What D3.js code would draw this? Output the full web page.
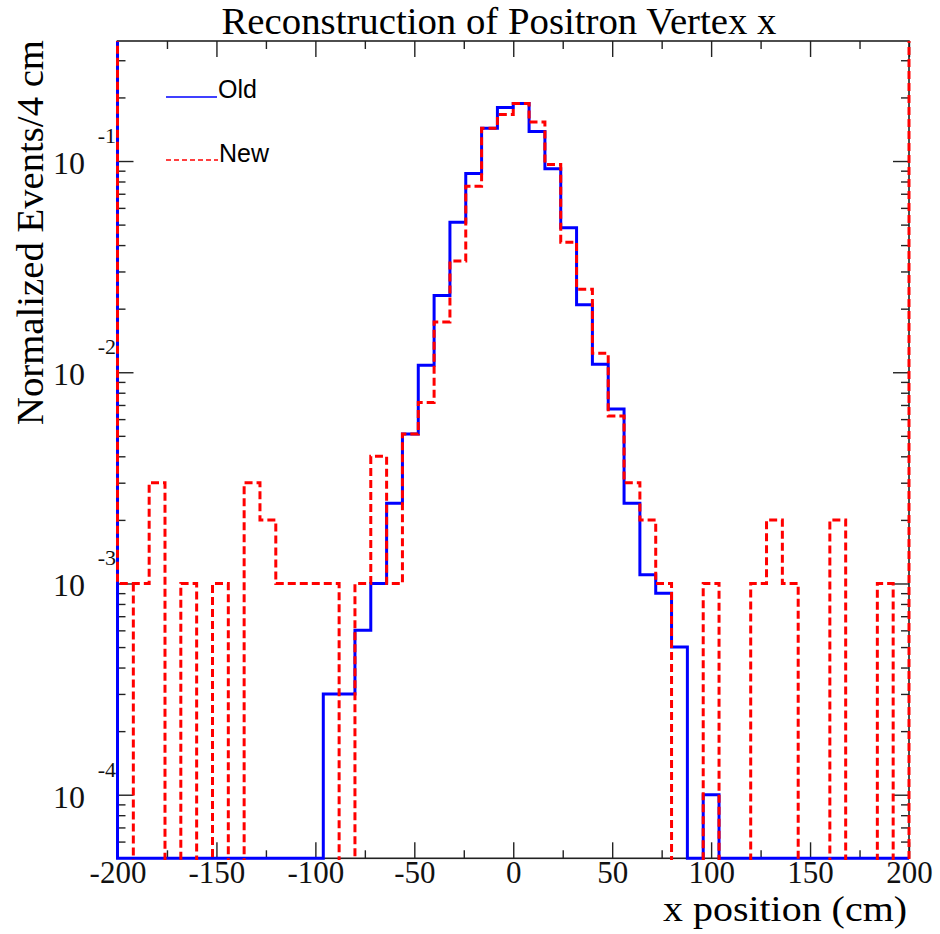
<!DOCTYPE html>
<html>
<head>
<meta charset="utf-8">
<script src="https://cdn.jsdelivr.net/npm/d3@7"></script>
<style>
body{margin:0;background:#fff}
svg{display:block}
</style>
</head>
<body>
<svg width="940" height="934"></svg>
<script>
// histogram bins: 8 cm wide, starting at -200
const binStart = -200
const binWidth = 8

// "Old" reconstruction, one value per bin
const oldValues = [
	0, 0, 0, 0, 0, 0, 0, 0, 0, 0,
	0, 0, 0, 3.0e-4, 3.0e-4, 6.0e-4, 1.0e-3, 2.4e-3, 5.1e-3, 1.08e-2,
	2.31e-2, 5.13e-2, 8.73e-2, 0.143, 0.179, 0.187, 0.138, 0.0918, 0.0483, 0.0209,
	0.0109, 0.0067, 0.0024, 0.0011, 0.0009, 0.0005, 0, 0.0001, 0, 0,
	0, 0, 0, 0, 0, 0, 0, 0, 0, 0
]

// "New" reconstruction
const newValues = [
	1e-3, 1e-3, 3e-3, 0, 1e-3, 0, 1e-3, 0, 3e-3, 2e-3,
	1e-3, 1e-3, 1e-3, 1e-3, 0, 1e-3, 4e-3, 1e-3, 5.1e-3, 7.2e-3,
	1.73e-2, 3.36e-2, 7.6e-2, 0.143, 0.166, 0.187, 0.153, 0.0963, 0.0413, 0.0247,
	0.0123, 0.0062, 3e-3, 2e-3, 1e-3, 0, 0, 1e-3, 0, 0,
	1e-3, 2e-3, 1e-3, 0, 0, 2e-3, 0, 0, 1e-3, 0
]

// level the outline comes from at the left edge / goes to at the right edge
const oldEdges = [1, 0]
const newEdges = [1, 1]
// x where the dashed outline drops to the floor
const newDrops = [-192]

const xMajorTicks = [-200, -150, -100, -50, 0, 50, 100, 150, 200]
const xMinorTicks = [-175, -125, -75, -25, 25, 75, 125, 175]
const yDecades = [1e-4, 1e-3, 1e-2, 1e-1]
const yExponents = ["-4", "-3", "-2", "-1"]

const svg = d3.select("svg")

const xScale = d3.scaleLinear()
	.domain([-200, 200])
	.range([117.5, 909])

const yScale = d3.scaleLog()
	.domain([5e-5, 0.37])
	.range([858.3, 41])

const plotLeft = xScale.range()[0], plotRight = xScale.range()[1]
const plotBottom = yScale.range()[0], plotTop = yScale.range()[1]

// clip for the histogram lines
svg.append("defs")
	.append("clipPath")
	.attr("id", "plotclip")
	.append("rect")
	.attr("x", plotLeft - 3)
	.attr("y", plotTop)
	.attr("width", plotRight - plotLeft + 6)
	.attr("height", plotBottom - plotTop + 1.6)

// minor y ticks, 2..9 in every decade
const yMinorTicks = []
d3.range(-5, 0).forEach(p => {
	d3.range(2, 10).forEach(k => {
		const v = k * Math.pow(10, p)
		if (v > yScale.domain()[0] && v < yScale.domain()[1]) yMinorTicks.push(v)
	})
})

const axes = svg.append("g").attr("class", "axes")

// bottom ticks with labels
axes.append("g")
	.attr("transform", `translate(0,${plotBottom})`)
	.call(d3.axisBottom(xScale).tickValues(xMajorTicks).tickSize(-16).tickPadding(3)
		.tickFormat(d => String(d)))
axes.append("g")
	.attr("transform", `translate(0,${plotBottom})`)
	.call(d3.axisBottom(xScale).tickValues(xMinorTicks).tickSize(-8).tickFormat(""))
// top ticks
axes.append("g")
	.attr("transform", `translate(0,${plotTop})`)
	.call(d3.axisTop(xScale).tickValues(xMajorTicks).tickSize(-16).tickFormat(""))
axes.append("g")
	.attr("transform", `translate(0,${plotTop})`)
	.call(d3.axisTop(xScale).tickValues(xMinorTicks).tickSize(-8).tickFormat(""))
// left and right ticks
axes.append("g")
	.attr("transform", `translate(${plotLeft},0)`)
	.call(d3.axisLeft(yScale).tickValues(yDecades).tickSize(-16).tickFormat(""))
axes.append("g")
	.attr("transform", `translate(${plotLeft},0)`)
	.call(d3.axisLeft(yScale).tickValues(yMinorTicks).tickSize(-8).tickFormat(""))
axes.append("g")
	.attr("transform", `translate(${plotRight},0)`)
	.call(d3.axisRight(yScale).tickValues(yDecades).tickSize(-16).tickFormat(""))
axes.append("g")
	.attr("transform", `translate(${plotRight},0)`)
	.call(d3.axisRight(yScale).tickValues(yMinorTicks).tickSize(-8).tickFormat(""))

axes.selectAll(".domain").remove()
axes.selectAll(".tick line").attr("stroke", "#222").attr("stroke-width", 1.4)
axes.selectAll(".tick text")
	.attr("font-family", "Liberation Serif, serif")
	.attr("font-size", 31)
	.attr("fill", "#111")

// y labels as 10 with exponent
const yLabels = axes.append("g")
	.selectAll("g")
	.data(yDecades)
	.enter()
	.append("g")
	.attr("font-family", "Liberation Serif, serif")
	.attr("fill", "#111")
yLabels.append("text")
	.attr("x", 69)
	.attr("y", d => yScale(d) + 13)
	.attr("text-anchor", "middle")
	.attr("font-size", 32)
	.text("10")
yLabels.append("text")
	.attr("x", 116)
	.attr("y", d => yScale(d) - 18)
	.attr("text-anchor", "end")
	.attr("font-size", 22)
	.text((d, i) => yExponents[i])

// frame
svg.append("rect")
	.attr("x", plotLeft)
	.attr("y", plotTop)
	.attr("width", plotRight - plotLeft)
	.attr("height", plotBottom - plotTop)
	.attr("fill", "none")
	.attr("stroke", "#222")
	.attr("stroke-width", 1.6)

// step outline of a histogram
const outline = function (values, edges, floorY) {
	const yOf = v => v > 0 ? yScale(v) : floorY
	const pts = [[xScale(binStart), yOf(edges[0])]]
	values.forEach((v, i) => {
		pts.push([xScale(binStart + i * binWidth), yOf(v)])
		pts.push([xScale(binStart + (i + 1) * binWidth), yOf(v)])
	})
	pts.push([xScale(binStart + values.length * binWidth), yOf(edges[1])])
	return d3.line()(pts)
}

const lines = svg.append("g").attr("clip-path", "url(#plotclip)")

lines.append("path")
	.attr("d", outline(oldValues, oldEdges, plotBottom))
	.attr("fill", "none")
	.attr("stroke", "#0000ff")
	.attr("stroke-width", 3)

const newFloor = plotBottom + 8
lines.append("path")
	.attr("d", outline(newValues, newEdges, newFloor))
	.attr("fill", "none")
	.attr("stroke", "#ff0000")
	.attr("stroke-width", 3)
	.attr("stroke-dasharray", "8,4")

lines.selectAll("path.drop")
	.data(newDrops)
	.enter()
	.append("path")
	.attr("class", "drop")
	.attr("d", d => {
		const i = Math.round((d - binStart) / binWidth)
		return d3.line()([[xScale(d), yScale(newValues[i])], [xScale(d), newFloor]])
	})
	.attr("fill", "none")
	.attr("stroke", "#ff0000")
	.attr("stroke-width", 3)
	.attr("stroke-dasharray", "8,4")

// titles
svg.append("text")
	.attr("x", 499)
	.attr("y", 34)
	.attr("text-anchor", "middle")
	.attr("font-family", "Liberation Serif, serif")
	.attr("font-size", 37)
	.attr("textLength", 555)
	.attr("lengthAdjust", "spacingAndGlyphs")
	.text("Reconstruction of Positron Vertex x")

svg.append("text")
	.attr("x", 907)
	.attr("y", 921)
	.attr("text-anchor", "end")
	.attr("font-family", "Liberation Serif, serif")
	.attr("font-size", 35)
	.attr("textLength", 244)
	.attr("lengthAdjust", "spacingAndGlyphs")
	.text("x position (cm)")

svg.append("text")
	.attr("transform", "translate(43,425) rotate(-90)")
	.attr("font-family", "Liberation Serif, serif")
	.attr("font-size", 37)
	.attr("textLength", 385)
	.attr("lengthAdjust", "spacingAndGlyphs")
	.text("Normalized Events/4 cm")

// legend
const legend = svg.append("g")
	.attr("font-family", "Liberation Sans, Arial, sans-serif")
	.attr("font-size", 25)
legend.append("line")
	.attr("x1", 166).attr("x2", 217)
	.attr("y1", 97).attr("y2", 97)
	.attr("stroke", "#0000ff")
	.attr("stroke-width", 1.5)
legend.append("text")
	.attr("x", 218).attr("y", 98)
	.text("Old")
legend.append("line")
	.attr("x1", 166).attr("x2", 218)
	.attr("y1", 160).attr("y2", 160)
	.attr("stroke", "#ff0000")
	.attr("stroke-width", 1.5)
	.attr("stroke-dasharray", "5,3")
legend.append("text")
	.attr("x", 219).attr("y", 162)
	.text("New")
</script>
</body>
</html>
